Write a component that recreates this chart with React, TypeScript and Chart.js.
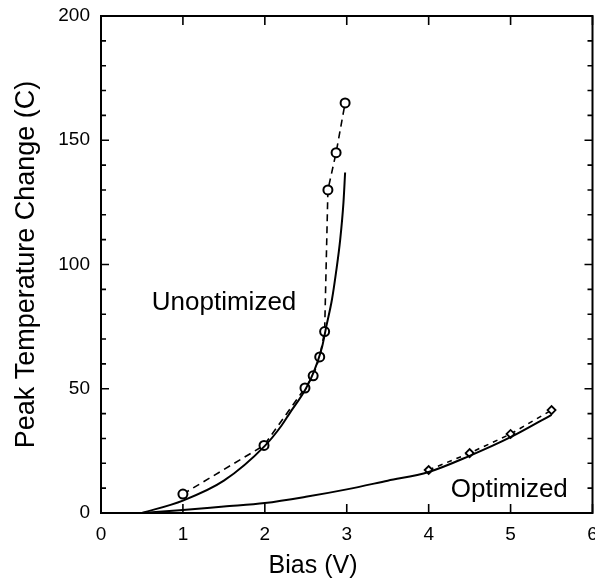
import { useEffect, useRef } from 'react';
import { Chart, registerables } from 'chart.js';

Chart.register(...registerables);

// ---- data ----
const unoptMeasX = [1.0, 1.99, 2.49, 2.59, 2.67, 2.73, 2.77, 2.87, 2.98];
const unoptMeasY = [7.6, 27.2, 50.3, 55.2, 62.8, 73, 130, 145, 165];

const unoptModelX = [0.5, 1.0, 1.5, 2.0, 2.2, 2.3, 2.5, 2.6, 2.7, 2.75, 2.82, 2.87, 2.92, 2.96, 2.98];
const unoptModelY = [0, 5, 13, 27, 35, 40, 50, 57, 67, 75, 86, 97, 110, 125, 137];

const optMeasX = [4.0, 4.5, 5.0, 5.5];
const optMeasY = [17.3, 24.1, 31.8, 41.4];

const optModelX = [0.5, 1.0, 1.5, 2.0, 2.5, 3.0, 3.5, 4.0, 4.5, 5.0, 5.5];
const optModelY = [0, 1.2, 2.6, 4.0, 6.5, 9.5, 13, 16.5, 23, 30.5, 39.5];

const xTicks = [0, 1, 2, 3, 4, 5, 6];
const yTicks = [0, 50, 100, 150, 200];
const yMinorStep = 10;

const labelTexts = ['Unoptimized', 'Optimized'];
const labelX = [0.62, 4.27];
const labelY = [81.7, 6.4];

const xTitle = 'Bias (V)';
const yTitle = 'Peak Temperature Change (C)';

const FONT = "'Liberation Sans', Arial, Helvetica, sans-serif";

const pts = (xs: number[], ys: number[]) => xs.map((x, i) => ({ x, y: ys[i] }));

export default function App() {
  const ref = useRef<HTMLCanvasElement | null>(null);

  useEffect(() => {
    document.body.style.margin = '0';
    document.body.style.overflow = 'hidden';
    const canvas = ref.current!;

    const framePlugin = {
      id: 'frame',
      afterDraw(chart: any) {
        const { ctx, chartArea: a, scales } = chart;
        const xs = scales.x;
        const ys = scales.y;
        ctx.save();
        ctx.strokeStyle = '#000';
        ctx.lineWidth = 2;
        ctx.strokeRect(a.left, a.top, a.right - a.left, a.bottom - a.top);
        ctx.lineWidth = 1.6;
        ctx.beginPath();
        xTicks.forEach((v) => {
          const px = xs.getPixelForValue(v);
          ctx.moveTo(px, a.bottom);
          ctx.lineTo(px, a.bottom - 9);
          ctx.moveTo(px, a.top);
          ctx.lineTo(px, a.top + 9);
        });
        for (let v = 0; v <= 200; v += yMinorStep) {
          const py = ys.getPixelForValue(v);
          const len = v % 50 === 0 ? 8 : 5;
          ctx.moveTo(a.left, py);
          ctx.lineTo(a.left + len, py);
          ctx.moveTo(a.right, py);
          ctx.lineTo(a.right - len, py);
        }
        ctx.stroke();

        ctx.fillStyle = '#000';
        ctx.font = `26px ${FONT}`;
        ctx.textAlign = 'left';
        ctx.textBaseline = 'alphabetic';
        labelTexts.forEach((t, i) => {
          ctx.fillText(t, xs.getPixelForValue(labelX[i]), ys.getPixelForValue(labelY[i]));
        });

        ctx.font = `25px ${FONT}`;
        ctx.textAlign = 'center';
        ctx.fillText(xTitle, 313, 573);
        ctx.restore();
      },
    };

    const chart = new Chart(canvas, {
      type: 'line',
      data: {
        datasets: [
          {
            label: 'Unoptimized model',
            data: pts(unoptModelX, unoptModelY),
            borderColor: '#000',
            borderWidth: 2,
            pointRadius: 0,
            cubicInterpolationMode: 'monotone',
            fill: false,
          },
          {
            label: 'Unoptimized measured',
            data: pts(unoptMeasX, unoptMeasY),
            borderColor: '#000',
            borderWidth: 1.6,
            borderDash: [7, 5],
            pointStyle: 'circle',
            pointRadius: 4.5,
            pointBorderWidth: 2,
            pointBorderColor: '#000',
            pointBackgroundColor: '#fff',
            tension: 0,
            fill: false,
          },
          {
            label: 'Optimized model',
            data: pts(optModelX, optModelY),
            borderColor: '#000',
            borderWidth: 2,
            pointRadius: 0,
            cubicInterpolationMode: 'monotone',
            fill: false,
          },
          {
            label: 'Optimized measured',
            data: pts(optMeasX, optMeasY),
            borderColor: '#000',
            borderWidth: 1.6,
            borderDash: [5, 5],
            pointStyle: 'rectRot',
            pointRadius: 4,
            pointBorderWidth: 1.8,
            pointBorderColor: '#000',
            pointBackgroundColor: '#fff',
            tension: 0,
            fill: false,
          },
        ],
      },
      options: {
        animation: false,
        responsive: false,
        devicePixelRatio: 1,
        layout: { padding: { top: 16, right: 0, left: 0, bottom: 0 } },
        plugins: { legend: { display: false }, tooltip: { enabled: false } },
        scales: {
          x: {
            type: 'linear',
            min: 0,
            max: 6,
            afterBuildTicks: (s: any) => {
              s.ticks = xTicks.map((v) => ({ value: v }));
            },
            ticks: {
              color: '#000',
              font: { family: FONT, size: 19 },
              padding: 10,
              maxRotation: 0,
              autoSkip: false,
            },
            grid: { display: false, drawTicks: false },
            border: { display: false },
            afterFit: (s: any) => {
              s.height = 75;
              s.paddingLeft = 0;
              s.paddingRight = 0;
            },
          },
          y: {
            type: 'linear',
            min: 0,
            max: 200,
            afterBuildTicks: (s: any) => {
              s.ticks = yTicks.map((v) => ({ value: v }));
            },
            ticks: {
              color: '#000',
              font: { family: FONT, size: 19 },
              padding: 11,
              autoSkip: false,
            },
            grid: { display: false, drawTicks: false },
            border: { display: false },
            title: {
              display: true,
              text: yTitle,
              color: '#000',
              font: { family: FONT, size: 27 },
              padding: { top: 10, bottom: 0 },
            },
            afterFit: (s: any) => {
              s.width = 101;
              s.paddingTop = 0;
              s.paddingBottom = 0;
            },
          },
        },
      },
      plugins: [framePlugin],
    } as any);

    return () => chart.destroy();
  }, []);

  return (
    <div style={{ position: 'absolute', left: 0, top: 0, width: 595, height: 588, overflow: 'hidden' }}>
      <canvas ref={ref} width={599} height={588} />
    </div>
  );
}
